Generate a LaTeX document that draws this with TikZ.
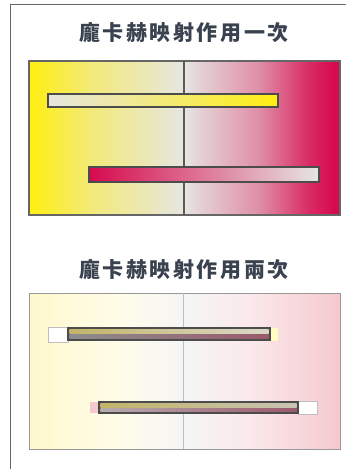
\documentclass[tikz,border=0pt]{standalone}
\usepackage{fontspec}
\newfontfamily\cjkfont[LetterSpace=12]{Noto Sans CJK TC}
\definecolor{yel}{HTML}{FFEE10}
\definecolor{midg}{HTML}{E6E6E2}
\definecolor{crim}{HTML}{D60A4E}
\definecolor{pinkp}{HTML}{F5C9CE}
\definecolor{yelp}{HTML}{FFF8CC}
\definecolor{frame}{HTML}{666666}
\definecolor{titlec}{HTML}{3A4250}
\definecolor{olive}{HTML}{C2B468}
\definecolor{mauve}{HTML}{9A5A6C}
\pgfdeclarehorizontalshading{panelone}{100bp}{
  color(0bp)=(yel); color(25bp)=(yel); color(28bp)=(yel!85!midg);
  color(35bp)=(yel!50!midg); color(50bp)=(midg); color(52bp)=(midg!92!crim);
  color(62bp)=(midg!60!crim); color(70bp)=(crim!85!midg); color(74bp)=(crim); color(100bp)=(crim)}
\pgfdeclarehorizontalshading{paneltwo}{100bp}{
  color(0bp)=(yelp); color(25bp)=(yelp); color(40bp)=(yelp!40!white);
  color(50bp)=(white!96!black); color(60bp)=(pinkp!40!white); color(75bp)=(pinkp); color(100bp)=(pinkp)}
\tikzset{
  x=1pt, y=-1pt,
  titletext/.style={font=\cjkfont\bfseries\fontsize{21}{21}\selectfont, text=titlec, inner sep=0pt},
  barone/.style={draw=black!70, line width=1.1pt},
  capbox/.style={draw=black!25, line width=0.5pt},
  combo/.style={draw=black!70, line width=1.2pt, fill=black!60},
}
\begin{document}
\begin{tikzpicture}
\useasboundingbox (0,0) rectangle (347,469);
\fill[white] (0,0) rectangle (347,469);
% outer frame
\draw[black!60, line width=0.9pt] (10.5,469) -- (10.5,4.5) -- (346,4.5);
% titles
\node[titletext] (t1) at (184,33) {龐卡赫映射作用一次};
\node[titletext] (t2) at (184,270) {龐卡赫映射作用兩次};
% panel 1
\shade[shading=panelone] (29,61) rectangle (340,215);
\draw[frame, line width=1.3pt] (29,61) rectangle (340,215);
\draw[black!65, line width=1.1pt] (184,61) -- (184,215);
\shade[left color=midg, right color=yel, barone] (48,94) rectangle (278,107);
\shade[left color=crim, right color=midg, barone] (89,167) rectangle (319,182);
% panel 2
\shade[shading=paneltwo] (29,293) rectangle (340,449);
\draw[black!40, line width=0.9pt] (29,293) rectangle (340,449);
\draw[black!25, line width=0.6pt] (183,293) -- (183,449);
% bar 3
\fill[white] (48,327) rectangle (68,342);
\draw[capbox] (48,327) rectangle (68,342);
\fill[yel!25!white] (270,328) rectangle (278,341);
\draw[combo] (68,328) rectangle (270,340);
\shade[left color=olive, right color=olive!70!black!30] (69.5,329.5) rectangle (268.5,333.4);
\shade[left color=black!45, right color=mauve] (69.5,334.8) rectangle (268.5,338.5);
% bar 4
\fill[pinkp] (90,402) rectangle (99,413);
\fill[white] (298,401) rectangle (317,414);
\draw[capbox] (298,401) rectangle (317,414);
\draw[combo] (99,402) rectangle (298,413);
\shade[left color=olive, right color=olive!60!black!40] (100.5,403.5) rectangle (296.5,407.1);
\shade[left color=mauve!50!black!40, right color=mauve] (100.5,408.5) rectangle (296.5,411.5);
\end{tikzpicture}
\end{document}
